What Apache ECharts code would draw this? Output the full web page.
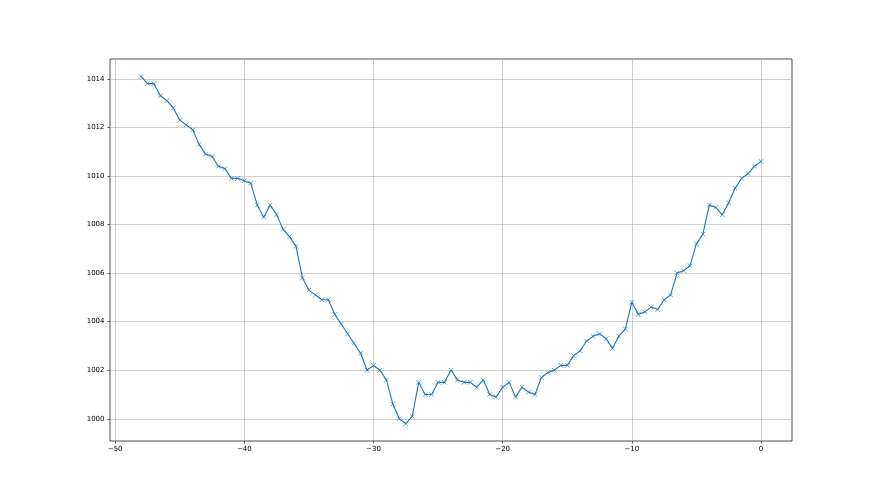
<!DOCTYPE html>
<html><head><meta charset="utf-8">
<script src="https://cdn.jsdelivr.net/npm/echarts@6/dist/echarts.min.js"></script>
<style>html,body{margin:0;padding:0;background:#fff}#c{width:880px;height:495px}</style>
</head><body><div id="c"></div>
<script>
const xValues = [-48,-47.5,-47,-46.5,-46,-45.5,-45,-44.5,-44,-43.5,-43,-42.5,-42,-41.5,-41,-40.5,-40,-39.5,-39,-38.5,-38,-37.5,-37,-36.5,-36,-35.5,-35,-34.5,-34,-33.5,-33,-32.5,-32,-31.5,-31,-30.5,-30,-29.5,-29,-28.5,-28,-27.5,-27,-26.5,-26,-25.5,-25,-24.5,-24,-23.5,-23,-22.5,-22,-21.5,-21,-20.5,-20,-19.5,-19,-18.5,-18,-17.5,-17,-16.5,-16,-15.5,-15,-14.5,-14,-13.5,-13,-12.5,-12,-11.5,-11,-10.5,-10,-9.5,-9,-8.5,-8,-7.5,-7,-6.5,-6,-5.5,-5,-4.5,-4,-3.5,-3,-2.5,-2,-1.5,-1,-0.5,0];
const pressure = [1014.1,1013.8,1013.8,1013.3,1013.1,1012.8,1012.3,1012.1,1011.9,1011.3,1010.9,1010.8,1010.4,1010.3,1009.9,1009.9,1009.8,1009.7,1008.8,1008.3,1008.8,1008.4,1007.8,1007.5,1007.1,1005.8,1005.3,1005.1,1004.9,1004.9,1004.3,1003.9,1003.5,1003.1,1002.7,1002.0,1002.2,1002.0,1001.6,1000.6,1000.0,999.8,1000.1,1001.5,1001.0,1001.0,1001.5,1001.5,1002.0,1001.6,1001.5,1001.5,1001.3,1001.6,1001.0,1000.9,1001.3,1001.5,1000.9,1001.3,1001.1,1001.0,1001.7,1001.9,1002.0,1002.2,1002.2,1002.6,1002.8,1003.2,1003.4,1003.5,1003.3,1002.9,1003.4,1003.7,1004.8,1004.3,1004.4,1004.6,1004.5,1004.9,1005.1,1006.0,1006.1,1006.3,1007.2,1007.6,1008.8,1008.7,1008.4,1008.9,1009.5,1009.9,1010.1,1010.4,1010.6];
const xTicks = [-50,-40,-30,-20,-10,0];
const yTicks = [1000,1002,1004,1006,1008,1010,1012,1014];

const chart = echarts.init(document.getElementById('c'), null, {renderer:'canvas'});
const fmt = v => String(v).replace('-', '\u2212');
const lbl = {fontFamily:'DejaVu Sans', fontSize:7, color:'#000', formatter: fmt};
chart.setOption({
  animation:false,
  backgroundColor:'#fff',
  grid:{left:110, right:88, top:59, bottom:54, show:true, borderColor:'#000', borderWidth:0.7, backgroundColor:'transparent'},
  xAxis:{type:'value', min:-50.4, max:2.4,
    axisLine:{show:false, onZero:false},
    axisTick:{show:true, inside:false, length:2.5, lineStyle:{color:'#000', width:0.6}, customValues:xTicks},
    axisLabel:Object.assign({customValues:xTicks}, lbl, {margin:5}),
    splitLine:{show:true, lineStyle:{color:'#b0b0b0', width:0.6}}},
  yAxis:{type:'value', min:999.085, max:1014.815,
    axisLine:{show:false, onZero:false},
    axisTick:{show:true, inside:false, length:2.5, lineStyle:{color:'#000', width:0.6}, customValues:yTicks},
    axisLabel:Object.assign({customValues:yTicks}, lbl, {margin:5.5}),
    splitLine:{show:true, lineStyle:{color:'#b0b0b0', width:0.6}}},
  series:[{type:'line', data:xValues.map((x,i)=>[x, pressure[i]]),
    lineStyle:{color:'#1f77b4', width:1.1},
    symbol:'path://M0 0L10 10M10 0L0 10', symbolSize:4.5,
    itemStyle:{color:'#1f77b4', borderColor:'#1f77b4', borderWidth:0.7},
    showSymbol:true}]
});
</script></body></html>
